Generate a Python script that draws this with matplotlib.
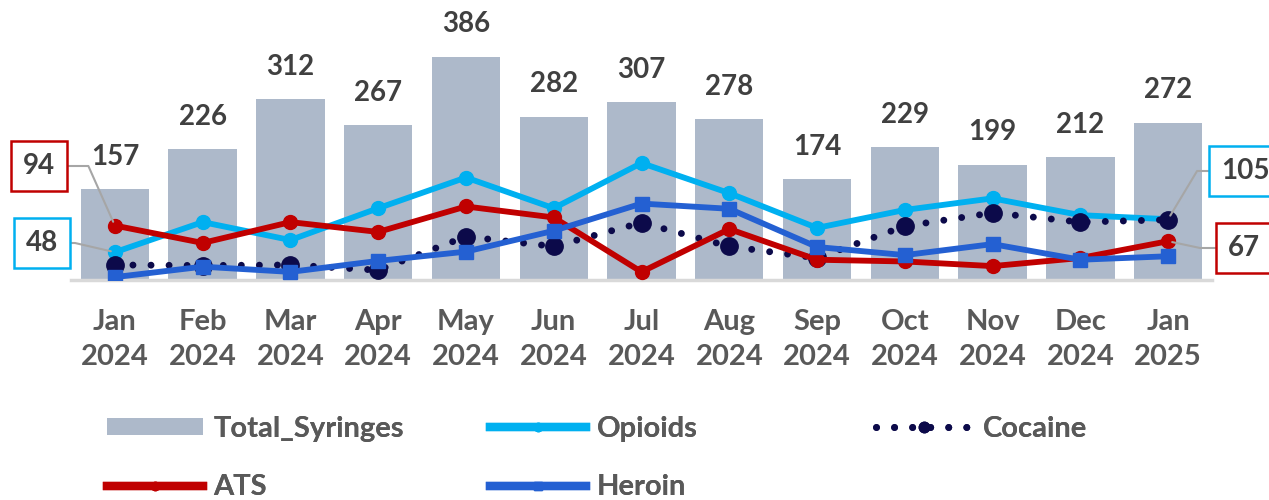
import matplotlib
matplotlib.use("Agg")
import matplotlib.pyplot as plt
import numpy as np

plt.rcParams['font.family'] = ['Lato', 'DejaVu Sans']

MONTHS = ["Jan\n2024", "Feb\n2024", "Mar\n2024", "Apr\n2024", "May\n2024",
          "Jun\n2024", "Jul\n2024", "Aug\n2024", "Sep\n2024", "Oct\n2024",
          "Nov\n2024", "Dec\n2024", "Jan\n2025"]
TOTAL   = [157, 226, 312, 267, 386, 282, 307, 278, 174, 229, 199, 212, 272]
OPIOIDS = [48, 100, 69, 124, 177, 124, 202, 150, 90, 121, 141, 112, 105]
COCAINE = [26, 25, 26, 17, 75, 58, 99, 58, 38, 93, 116, 100, 104]
ATS     = [94, 64, 100, 83, 127, 108, 14, 88, 35, 32, 24, 38, 67]
HEROIN  = [5, 23, 14, 33, 49, 85, 132, 123, 57, 43, 62, 35, 41]

TXT = "#404040"
GRY = "#595959"
C_BAR, C_OPI, C_COC, C_ATS, C_HER = "#ADB9CA", "#00B0F0", "#0C0A4A", "#C00000", "#2460D2"

fig = plt.figure(figsize=(12.69, 5), dpi=100)
ax = fig.add_axes([71/1269, 220/500, 1141/1269, 450*0.579/500])
x = np.arange(len(MONTHS))

bars = ax.bar(x, TOTAL, width=0.78, color=C_BAR, zorder=1, label="Total_Syringes")
for xi, v in zip(x, TOTAL):
    ax.annotate(str(v), xy=(xi, v), xytext=(0, 14), textcoords="offset points",
                ha="center", va="bottom", fontsize=20, fontweight="bold", color=TXT)

l_opi, = ax.plot(x, OPIOIDS, color=C_OPI, lw=4.2, marker="o", ms=10, zorder=3,
                 label="Opioids")
l_coc, = ax.plot(x, COCAINE, color=C_COC, lw=5, ls=(0, (0.001, 2.6)),
                 dash_capstyle="round", marker="o", ms=12.5, zorder=3, label="Cocaine")
l_ats, = ax.plot(x, ATS, color=C_ATS, lw=4.2, marker="o", ms=10, zorder=4, label="ATS")
l_her, = ax.plot(x, HEROIN, color=C_HER, lw=4.2, marker="s", ms=10, zorder=5,
                 label="Heroin")

ax.set_xlim(-0.5, 12.5)
ax.set_ylim(0, 450)
for s in ["top", "right", "left"]:
    ax.spines[s].set_visible(False)
ax.spines["bottom"].set_color("#D9D9D9")
ax.spines["bottom"].set_linewidth(2.5)
ax.set_yticks([])
ax.set_xticks(x)
ax.set_xticklabels(MONTHS, fontsize=21, fontweight="bold", color=GRY, linespacing=1.4)
ax.tick_params(axis="x", length=0, pad=21)

# callout boxes
def callout(txt, xi, yv, tx, ty, ec, angB, ha="center"):
    ax.annotate(txt, xy=(xi, yv), xytext=(tx, ty), textcoords="figure pixels",
                ha=ha, va="center", fontsize=20, fontweight="bold", color=TXT,
                bbox=dict(boxstyle="square,pad=0.42", fc="white", ec=ec, lw=1.8),
                arrowprops=dict(arrowstyle="-", color="#A6A6A6", lw=1.5,
                                shrinkA=0, shrinkB=3,
                                connectionstyle="angle,angleA=0,angleB=%d,rad=0" % angB),
                zorder=6, annotation_clip=False)

callout(str(ATS[0]), 0, ATS[0], 39, 334, C_ATS, 114)
callout(str(OPIOIDS[0]), 0, OPIOIDS[0], 42, 257, C_OPI, 167)
callout(str(OPIOIDS[-1]), 12, OPIOIDS[-1], 1221, 329, C_OPI, 59, ha="left")
callout(str(ATS[-1]), 12, ATS[-1], 1228, 252, C_ATS, -12, ha="left")

# legend, laid out as three columns
leg_kw = dict(loc="upper left", frameon=False, fontsize=21, handlelength=3.3,
              handleheight=0.55, handletextpad=0.35, labelspacing=1.1, borderpad=0,
              borderaxespad=0, markerscale=0.6, labelcolor=GRY)
cols = [([bars, l_ats], 107), ([l_opi, l_her], 490), ([l_coc], 876)]
for hs, px in cols:
    lg = fig.legend(handles=hs, bbox_to_anchor=(px/1269, 1 - 416/500), **leg_kw)
    for ln in lg.get_lines():
        if ln.get_label() != "Cocaine":
            ln.set_linewidth(6)
    for t in lg.get_texts():
        t.set_fontweight("bold")
    fig.add_artist(lg)

fig.savefig("out.png", dpi=100)
